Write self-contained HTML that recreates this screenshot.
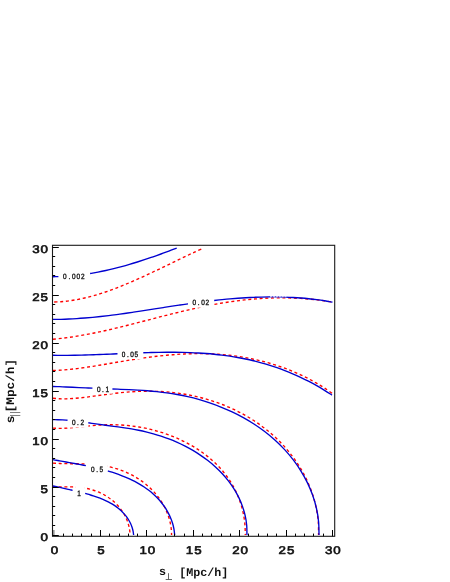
<!DOCTYPE html>
<html><head><meta charset="utf-8"><title>plot</title>
<style>html,body{margin:0;padding:0;background:#fff}body{width:450px;height:582px;overflow:hidden;font-family:"Liberation Sans",sans-serif}</style></head>
<body>
<svg width="450" height="582" viewBox="0 0 450 582" style="display:block;will-change:transform">
<rect x="0" y="0" width="450" height="582" fill="#fff"/>
<g fill="none" stroke="#ff0000" stroke-width="1.35" stroke-dasharray="3 2.7">
<path d="M53.00 302.07 C54.32 302.01 58.27 301.91 60.91 301.71 C63.55 301.52 66.18 301.24 68.82 300.89 C71.46 300.55 74.09 300.12 76.73 299.64 C79.37 299.15 82.01 298.60 84.64 297.98 C87.28 297.37 89.92 296.69 92.55 295.96 C95.19 295.23 97.83 294.44 100.46 293.61 C103.10 292.78 105.74 291.89 108.37 290.96 C111.01 290.03 113.65 289.06 116.28 288.05 C118.92 287.03 121.56 285.98 124.19 284.90 C126.83 283.82 129.47 282.70 132.11 281.56 C134.74 280.41 137.38 279.24 140.02 278.05 C142.65 276.86 145.29 275.64 147.93 274.41 C150.56 273.19 153.20 271.94 155.84 270.68 C158.47 269.43 161.11 268.16 163.75 266.89 C166.38 265.62 169.02 264.34 171.66 263.07 C174.29 261.79 176.93 260.52 179.57 259.25 C182.21 257.99 184.84 256.72 187.48 255.48 C190.12 254.23 192.75 252.99 195.39 251.77 C198.03 250.55 201.98 248.77 203.30 248.17" stroke-dashoffset="4.2"/>
<path d="M53.00 339.27 C54.33 339.13 58.32 338.75 60.99 338.44 C63.65 338.13 66.31 337.78 68.97 337.40 C71.63 337.03 74.30 336.62 76.96 336.18 C79.62 335.74 82.28 335.28 84.94 334.79 C87.60 334.30 90.27 333.78 92.93 333.25 C95.59 332.71 98.25 332.15 100.91 331.58 C103.58 331.00 106.24 330.41 108.90 329.80 C111.56 329.19 114.22 328.56 116.89 327.92 C119.55 327.28 122.21 326.62 124.87 325.96 C127.53 325.30 130.20 324.63 132.86 323.95 C135.52 323.28 138.18 322.59 140.84 321.90 C143.50 321.22 146.17 320.52 148.83 319.83 C151.49 319.14 154.15 318.45 156.81 317.76 C159.48 317.07 162.14 316.38 164.80 315.70 C167.46 315.02 170.12 314.35 172.79 313.68 C175.45 313.01 178.11 312.35 180.77 311.71 C183.43 311.06 186.10 310.43 188.76 309.81 C191.42 309.19 194.08 308.59 196.74 308.00 C199.40 307.42 202.07 306.85 204.73 306.30 C207.39 305.75 210.05 305.22 212.71 304.72 C215.38 304.22 218.04 303.74 220.70 303.29 C223.36 302.84 226.02 302.41 228.69 302.01 C231.35 301.61 234.01 301.24 236.67 300.89 C239.33 300.54 242.00 300.22 244.66 299.93 C247.32 299.64 249.98 299.38 252.64 299.15 C255.30 298.92 257.97 298.72 260.63 298.54 C263.29 298.37 265.95 298.23 268.61 298.12 C271.28 298.02 273.94 297.94 276.60 297.89 C279.26 297.85 281.92 297.84 284.59 297.86 C287.25 297.88 289.91 297.94 292.57 298.03 C295.23 298.12 297.90 298.25 300.56 298.41 C303.22 298.57 305.88 298.77 308.54 299.01 C311.20 299.24 313.87 299.51 316.53 299.83 C319.19 300.14 321.85 300.48 324.51 300.87 C327.18 301.26 331.17 301.94 332.50 302.16"/>
<path d="M53.00 370.47 C54.33 370.40 58.32 370.27 60.99 370.10 C63.65 369.93 66.31 369.71 68.97 369.46 C71.63 369.20 74.30 368.90 76.96 368.58 C79.62 368.26 82.28 367.89 84.94 367.51 C87.60 367.13 90.27 366.72 92.93 366.30 C95.59 365.88 98.25 365.44 100.91 364.99 C103.58 364.54 106.24 364.08 108.90 363.62 C111.56 363.16 114.22 362.69 116.89 362.23 C119.55 361.77 122.21 361.31 124.87 360.87 C127.53 360.43 130.20 359.99 132.86 359.58 C135.52 359.16 138.18 358.76 140.84 358.37 C143.50 357.99 146.17 357.62 148.83 357.27 C151.49 356.92 154.15 356.59 156.81 356.28 C159.48 355.97 162.14 355.68 164.80 355.42 C167.46 355.16 170.12 354.92 172.79 354.72 C175.45 354.51 178.11 354.32 180.77 354.17 C183.43 354.02 186.10 353.90 188.76 353.81 C191.42 353.72 194.08 353.66 196.74 353.64 C199.40 353.62 202.07 353.63 204.73 353.68 C207.39 353.74 210.05 353.82 212.71 353.95 C215.38 354.08 218.04 354.24 220.70 354.45 C223.36 354.66 226.02 354.91 228.69 355.20 C231.35 355.49 234.01 355.82 236.67 356.20 C239.33 356.58 242.00 357.00 244.66 357.46 C247.32 357.93 249.98 358.44 252.64 359.01 C255.30 359.57 257.97 360.17 260.63 360.83 C263.29 361.49 265.95 362.20 268.61 362.96 C271.28 363.72 273.94 364.52 276.60 365.39 C279.26 366.25 281.92 367.17 284.59 368.15 C287.25 369.13 289.91 370.16 292.57 371.27 C295.23 372.37 297.90 373.54 300.56 374.78 C303.22 376.03 305.88 377.34 308.54 378.73 C311.20 380.13 313.87 381.59 316.53 383.15 C319.19 384.70 321.85 386.33 324.51 388.06 C327.18 389.79 331.17 392.60 332.50 393.51"/>
<path d="M53.00 398.29 C54.08 398.36 57.34 398.66 59.52 398.75 C61.70 398.83 63.86 398.84 66.06 398.81 C68.26 398.77 70.46 398.66 72.70 398.51 C74.94 398.37 77.20 398.16 79.52 397.93 C81.83 397.69 84.17 397.41 86.57 397.11 C88.98 396.81 91.42 396.46 93.93 396.12 C96.44 395.78 99.00 395.41 101.62 395.05 C104.25 394.69 106.94 394.32 109.70 393.97 C112.46 393.62 115.28 393.27 118.18 392.96 C121.07 392.65 124.04 392.36 127.07 392.11 C130.10 391.87 133.21 391.65 136.38 391.50 C139.56 391.36 142.80 391.25 146.11 391.22 C149.42 391.19 152.79 391.22 156.23 391.34 C159.66 391.46 163.17 391.65 166.72 391.95 C170.27 392.25 173.88 392.62 177.53 393.12 C181.18 393.61 184.89 394.20 188.62 394.92 C192.36 395.63 196.14 396.46 199.94 397.41 C203.74 398.37 207.58 399.45 211.41 400.67 C215.25 401.89 219.11 403.24 222.94 404.75 C226.77 406.26 230.61 407.91 234.40 409.72 C238.19 411.53 241.98 413.49 245.68 415.61 C249.39 417.74 253.07 420.02 256.65 422.46 C260.23 424.91 263.75 427.51 267.16 430.27 C270.56 433.03 273.89 435.95 277.07 439.02 C280.26 442.09 283.34 445.32 286.26 448.69 C289.17 452.05 291.96 455.57 294.56 459.21 C297.16 462.85 299.61 466.64 301.84 470.53 C304.08 474.42 306.15 478.44 307.98 482.54 C309.81 486.64 311.45 490.86 312.83 495.13 C314.21 499.40 315.38 503.78 316.28 508.18 C317.18 512.57 317.84 517.05 318.22 521.52 C318.60 525.99 318.50 532.75 318.56 535.00"/>
<path d="M53.00 428.05 C53.85 428.09 56.41 428.27 58.12 428.31 C59.83 428.36 61.53 428.34 63.25 428.29 C64.98 428.25 66.71 428.15 68.47 428.03 C70.23 427.92 72.00 427.76 73.81 427.59 C75.62 427.42 77.46 427.23 79.33 427.03 C81.20 426.83 83.10 426.62 85.05 426.41 C86.99 426.21 88.97 426.00 90.99 425.81 C93.01 425.62 95.07 425.43 97.17 425.28 C99.26 425.13 101.40 425.00 103.58 424.91 C105.75 424.82 107.97 424.76 110.22 424.75 C112.47 424.74 114.76 424.76 117.09 424.84 C119.41 424.92 121.78 425.04 124.17 425.22 C126.57 425.40 129.00 425.63 131.47 425.92 C133.93 426.22 136.43 426.57 138.95 426.99 C141.48 427.41 144.04 427.89 146.61 428.45 C149.19 429.01 151.80 429.63 154.43 430.34 C157.05 431.05 159.71 431.83 162.37 432.69 C165.03 433.56 167.72 434.50 170.41 435.53 C173.10 436.57 175.81 437.68 178.51 438.89 C181.21 440.10 183.92 441.40 186.61 442.80 C189.29 444.21 191.98 445.71 194.62 447.32 C197.25 448.94 199.87 450.66 202.42 452.49 C204.97 454.32 207.48 456.27 209.91 458.32 C212.33 460.38 214.70 462.54 216.95 464.82 C219.21 467.09 221.39 469.48 223.44 471.97 C225.49 474.46 227.44 477.06 229.24 479.74 C231.04 482.42 232.72 485.21 234.23 488.07 C235.75 490.93 237.11 493.89 238.32 496.89 C239.53 499.90 240.59 502.98 241.48 506.10 C242.38 509.21 243.12 512.39 243.70 515.58 C244.28 518.77 244.70 522.01 244.97 525.25 C245.23 528.49 245.23 533.38 245.29 535.00"/>
<path d="M53.00 463.10 C53.57 463.14 55.30 463.26 56.45 463.33 C57.60 463.39 58.75 463.44 59.90 463.49 C61.05 463.53 62.21 463.57 63.37 463.60 C64.53 463.62 65.70 463.64 66.88 463.66 C68.07 463.68 69.26 463.69 70.46 463.70 C71.67 463.71 72.89 463.71 74.12 463.72 C75.36 463.73 76.61 463.74 77.88 463.76 C79.16 463.78 80.45 463.79 81.76 463.83 C83.07 463.86 84.41 463.89 85.76 463.95 C87.12 464.00 88.50 464.06 89.90 464.15 C91.30 464.23 92.72 464.33 94.17 464.46 C95.61 464.60 97.08 464.74 98.57 464.93 C100.05 465.12 101.56 465.33 103.08 465.58 C104.61 465.83 106.15 466.11 107.71 466.44 C109.26 466.77 110.83 467.13 112.42 467.55 C114.00 467.96 115.59 468.42 117.19 468.92 C118.79 469.43 120.40 469.99 122.00 470.60 C123.61 471.21 125.22 471.87 126.83 472.59 C128.43 473.31 130.04 474.08 131.63 474.91 C133.22 475.75 134.80 476.63 136.37 477.58 C137.93 478.53 139.49 479.54 141.02 480.61 C142.54 481.68 144.05 482.81 145.52 484.00 C146.99 485.20 148.43 486.45 149.83 487.76 C151.23 489.08 152.59 490.45 153.90 491.88 C155.21 493.32 156.47 494.81 157.67 496.36 C158.87 497.90 160.02 499.51 161.10 501.16 C162.17 502.81 163.19 504.52 164.12 506.27 C165.05 508.02 165.92 509.82 166.70 511.66 C167.47 513.49 168.17 515.37 168.77 517.27 C169.38 519.17 169.89 521.12 170.31 523.07 C170.72 525.03 171.04 527.01 171.26 529.00 C171.47 530.99 171.53 534.00 171.59 535.00"/>
<path d="M53.00 486.63 C53.39 486.65 54.56 486.73 55.34 486.77 C56.12 486.81 56.90 486.84 57.68 486.86 C58.46 486.88 59.24 486.89 60.03 486.90 C60.82 486.91 61.61 486.91 62.41 486.91 C63.22 486.91 64.02 486.90 64.84 486.90 C65.66 486.89 66.49 486.89 67.33 486.89 C68.17 486.89 69.02 486.89 69.88 486.90 C70.74 486.91 71.61 486.93 72.50 486.95 C73.38 486.98 74.28 487.01 75.19 487.06 C76.10 487.11 77.03 487.17 77.96 487.24 C78.90 487.32 79.85 487.41 80.81 487.52 C81.76 487.64 82.74 487.77 83.72 487.92 C84.70 488.08 85.69 488.25 86.69 488.45 C87.68 488.65 88.69 488.88 89.70 489.14 C90.72 489.39 91.74 489.67 92.76 489.99 C93.78 490.30 94.81 490.64 95.84 491.02 C96.87 491.39 97.90 491.80 98.93 492.24 C99.95 492.69 100.98 493.16 102.00 493.68 C103.02 494.19 104.04 494.74 105.04 495.32 C106.05 495.91 107.05 496.53 108.03 497.19 C109.01 497.85 109.98 498.54 110.94 499.28 C111.89 500.01 112.83 500.78 113.74 501.59 C114.66 502.40 115.55 503.24 116.42 504.13 C117.29 505.01 118.13 505.93 118.94 506.88 C119.75 507.83 120.53 508.82 121.27 509.85 C122.01 510.87 122.72 511.92 123.38 513.01 C124.05 514.09 124.68 515.21 125.26 516.36 C125.83 517.50 126.37 518.67 126.86 519.86 C127.34 521.06 127.78 522.28 128.16 523.51 C128.55 524.75 128.88 526.00 129.15 527.27 C129.42 528.54 129.64 529.82 129.80 531.11 C129.95 532.40 130.03 534.35 130.08 535.00"/>
</g>
<rect x="58.4" y="268.6" width="31.7" height="13.1" fill="#fff"/>
<rect x="188.0" y="295.0" width="26.0" height="12.7" fill="#fff"/>
<rect x="117.5" y="346.4" width="25.8" height="12.6" fill="#fff"/>
<rect x="92.5" y="380.7" width="20.0" height="13.0" fill="#fff"/>
<rect x="67.5" y="414.4" width="20.8" height="13.2" fill="#fff"/>
<rect x="86.2" y="461.4" width="21.0" height="12.6" fill="#fff"/>
<rect x="75.5" y="485.5" width="9.3" height="12.7" fill="#fff"/>
<g fill="none" stroke="#0000d0" stroke-width="1.35">
<path d="M53.00 276.71 C53.45 276.71 54.80 276.70 55.70 276.68 C56.60 276.67 57.95 276.63 58.40 276.62"/>
<path d="M90.10 273.50 C91.41 273.27 95.35 272.60 97.97 272.10 C100.60 271.59 103.22 271.05 105.85 270.47 C108.47 269.90 111.09 269.28 113.72 268.64 C116.34 267.99 118.97 267.31 121.59 266.61 C124.22 265.90 126.84 265.16 129.46 264.39 C132.09 263.63 134.71 262.83 137.34 262.01 C139.96 261.19 142.58 260.34 145.21 259.48 C147.83 258.61 150.46 257.71 153.08 256.80 C155.71 255.88 158.33 254.94 160.95 253.99 C163.58 253.03 166.20 252.06 168.83 251.07 C171.45 250.07 175.39 248.55 176.70 248.04"/>
<path d="M53.00 319.39 C54.32 319.38 58.29 319.36 60.94 319.30 C63.59 319.24 66.24 319.15 68.88 319.03 C71.53 318.92 74.18 318.77 76.82 318.60 C79.47 318.44 82.12 318.24 84.76 318.03 C87.41 317.81 90.06 317.58 92.71 317.32 C95.35 317.06 98.00 316.79 100.65 316.49 C103.29 316.20 105.94 315.89 108.59 315.57 C111.24 315.24 113.88 314.90 116.53 314.55 C119.18 314.20 121.82 313.83 124.47 313.46 C127.12 313.09 129.76 312.70 132.41 312.31 C135.06 311.92 137.71 311.52 140.35 311.12 C143.00 310.71 145.65 310.30 148.29 309.89 C150.94 309.48 153.59 309.07 156.24 308.65 C158.88 308.24 161.53 307.82 164.18 307.41 C166.82 307.00 169.47 306.59 172.12 306.18 C174.76 305.78 177.41 305.38 180.06 304.99 C182.71 304.59 186.68 304.02 188.00 303.83"/>
<path d="M214.20 300.47 C215.51 300.33 219.46 299.89 222.09 299.62 C224.72 299.36 227.34 299.11 229.97 298.88 C232.60 298.65 235.23 298.44 237.86 298.24 C240.49 298.05 243.12 297.87 245.75 297.72 C248.38 297.56 251.00 297.43 253.63 297.31 C256.26 297.20 258.89 297.11 261.52 297.05 C264.15 296.98 266.78 296.94 269.41 296.92 C272.04 296.90 274.66 296.91 277.29 296.94 C279.92 296.98 282.55 297.04 285.18 297.13 C287.81 297.21 290.44 297.33 293.07 297.48 C295.70 297.63 298.32 297.80 300.95 298.01 C303.58 298.22 306.21 298.46 308.84 298.73 C311.47 299.00 314.10 299.30 316.73 299.64 C319.36 299.98 321.98 300.35 324.61 300.76 C327.24 301.17 331.19 301.88 332.50 302.10"/>
<path d="M53.00 355.25 C54.19 355.27 57.78 355.33 60.17 355.34 C62.56 355.35 64.94 355.35 67.33 355.34 C69.72 355.32 72.11 355.29 74.50 355.25 C76.89 355.22 79.28 355.17 81.67 355.11 C84.06 355.05 86.44 354.98 88.83 354.90 C91.22 354.83 93.61 354.74 96.00 354.66 C98.39 354.57 100.78 354.47 103.17 354.38 C105.56 354.28 107.94 354.18 110.33 354.08 C112.72 353.97 116.31 353.82 117.50 353.77"/>
<path d="M143.30 352.73 C144.61 352.70 148.54 352.57 151.16 352.50 C153.78 352.44 156.40 352.38 159.03 352.34 C161.65 352.29 164.27 352.26 166.89 352.25 C169.51 352.23 172.13 352.23 174.75 352.25 C177.37 352.28 179.99 352.31 182.61 352.37 C185.23 352.43 187.85 352.51 190.48 352.61 C193.10 352.71 195.72 352.84 198.34 352.99 C200.96 353.14 203.58 353.32 206.20 353.52 C208.82 353.73 211.44 353.96 214.06 354.22 C216.68 354.49 219.30 354.78 221.93 355.11 C224.55 355.44 227.17 355.80 229.79 356.19 C232.41 356.59 235.03 357.02 237.65 357.49 C240.27 357.96 242.89 358.46 245.51 359.01 C248.13 359.56 250.75 360.15 253.38 360.78 C256.00 361.41 258.62 362.08 261.24 362.80 C263.86 363.52 266.48 364.29 269.10 365.10 C271.72 365.91 274.34 366.77 276.96 367.68 C279.58 368.60 282.20 369.55 284.83 370.57 C287.45 371.58 290.07 372.65 292.69 373.77 C295.31 374.90 297.93 376.07 300.55 377.31 C303.17 378.54 305.79 379.83 308.41 381.19 C311.03 382.54 313.65 383.95 316.27 385.43 C318.90 386.91 321.52 388.44 324.14 390.05 C326.76 391.65 330.69 394.22 332.00 395.06"/>
<path d="M53.00 386.47 C54.08 386.51 57.33 386.62 59.49 386.70 C61.66 386.78 63.82 386.87 65.99 386.96 C68.15 387.06 70.32 387.16 72.50 387.26 C74.68 387.36 76.86 387.46 79.07 387.56 C81.27 387.66 83.48 387.76 85.71 387.87 C87.94 387.97 91.33 388.12 92.46 388.17"/>
<path d="M112.43 388.98 C113.79 389.04 117.81 389.19 120.59 389.30 C123.37 389.42 126.19 389.53 129.09 389.66 C131.98 389.79 134.94 389.93 137.96 390.10 C140.98 390.28 144.06 390.47 147.21 390.72 C150.35 390.97 153.56 391.25 156.83 391.60 C160.10 391.96 163.43 392.35 166.82 392.84 C170.20 393.32 173.65 393.87 177.14 394.51 C180.63 395.15 184.18 395.86 187.76 396.69 C191.34 397.51 194.97 398.42 198.63 399.46 C202.28 400.49 205.98 401.62 209.69 402.88 C213.40 404.14 217.15 405.51 220.89 407.02 C224.63 408.52 228.40 410.15 232.14 411.92 C235.88 413.69 239.64 415.59 243.34 417.65 C247.03 419.71 250.73 421.91 254.34 424.27 C257.94 426.63 261.52 429.14 264.99 431.81 C268.46 434.48 271.87 437.30 275.14 440.28 C278.42 443.25 281.61 446.39 284.63 449.66 C287.65 452.94 290.57 456.37 293.29 459.93 C296.01 463.49 298.59 467.21 300.96 471.03 C303.32 474.85 305.52 478.81 307.47 482.86 C309.42 486.91 311.18 491.08 312.67 495.32 C314.17 499.55 315.44 503.89 316.42 508.27 C317.41 512.64 318.14 517.10 318.58 521.56 C319.01 526.01 318.95 532.76 319.02 535.00"/>
<path d="M53.00 419.69 C53.81 419.69 56.22 419.67 57.84 419.71 C59.45 419.74 61.06 419.81 62.67 419.90 C64.28 419.99 66.70 420.19 67.51 420.24"/>
<path d="M88.31 422.78 C89.25 422.91 92.04 423.32 93.93 423.59 C95.83 423.86 97.74 424.14 99.68 424.42 C101.62 424.69 103.58 424.97 105.59 425.24 C107.59 425.52 109.63 425.79 111.71 426.07 C113.79 426.34 115.90 426.62 118.06 426.91 C120.22 427.21 122.42 427.51 124.67 427.85 C126.91 428.19 129.19 428.55 131.51 428.95 C133.84 429.35 136.20 429.78 138.60 430.26 C141.00 430.75 143.44 431.27 145.91 431.86 C148.37 432.44 150.88 433.08 153.41 433.79 C155.94 434.50 158.50 435.26 161.07 436.11 C163.65 436.96 166.25 437.87 168.86 438.87 C171.47 439.87 174.11 440.95 176.73 442.11 C179.36 443.28 182.00 444.53 184.63 445.88 C187.26 447.23 189.89 448.67 192.50 450.20 C195.10 451.74 197.71 453.37 200.27 455.10 C202.84 456.83 205.39 458.65 207.88 460.59 C210.37 462.53 212.83 464.57 215.20 466.71 C217.56 468.86 219.88 471.12 222.08 473.47 C224.28 475.83 226.40 478.30 228.39 480.87 C230.37 483.43 232.26 486.10 233.98 488.86 C235.70 491.61 237.29 494.47 238.71 497.39 C240.13 500.31 241.40 503.32 242.48 506.37 C243.55 509.43 244.47 512.56 245.17 515.72 C245.87 518.87 246.40 522.09 246.70 525.31 C247.00 528.52 246.92 533.38 246.97 535.00"/>
<path d="M53.00 459.70 C53.55 459.79 55.21 460.08 56.31 460.28 C57.41 460.47 58.50 460.66 59.59 460.86 C60.67 461.05 61.75 461.24 62.83 461.44 C63.91 461.63 64.99 461.82 66.06 462.01 C67.14 462.21 68.22 462.40 69.29 462.59 C70.37 462.79 71.45 462.98 72.54 463.18 C73.62 463.37 74.71 463.57 75.80 463.77 C76.89 463.97 77.99 464.17 79.10 464.38 C80.21 464.59 81.32 464.79 82.45 465.01 C83.58 465.23 85.29 465.56 85.86 465.67"/>
<path d="M107.82 470.91 C108.52 471.13 110.61 471.75 112.03 472.20 C113.46 472.66 114.90 473.14 116.36 473.65 C117.83 474.16 119.31 474.70 120.81 475.27 C122.31 475.85 123.83 476.45 125.36 477.10 C126.90 477.74 128.46 478.42 130.02 479.14 C131.59 479.87 133.17 480.63 134.74 481.45 C136.32 482.28 137.91 483.14 139.48 484.07 C141.05 485.00 142.63 485.98 144.18 487.02 C145.73 488.07 147.27 489.17 148.77 490.33 C150.28 491.49 151.77 492.72 153.20 494.01 C154.64 495.30 156.05 496.65 157.40 498.06 C158.75 499.47 160.07 500.94 161.31 502.47 C162.55 504.00 163.73 505.60 164.84 507.24 C165.95 508.88 166.99 510.58 167.94 512.33 C168.89 514.07 169.76 515.87 170.53 517.70 C171.30 519.53 171.99 521.41 172.56 523.31 C173.13 525.21 173.61 527.15 173.96 529.10 C174.32 531.05 174.56 534.02 174.68 535.00"/>
<path d="M52.99 485.99 C53.37 486.07 54.49 486.29 55.23 486.44 C55.97 486.59 56.71 486.75 57.44 486.90 C58.17 487.06 58.89 487.22 59.61 487.38 C60.34 487.54 61.05 487.70 61.77 487.86 C62.49 488.02 63.20 488.18 63.91 488.34 C64.63 488.51 65.34 488.67 66.06 488.83 C66.77 489.00 67.49 489.16 68.21 489.33 C68.92 489.50 69.65 489.66 70.37 489.83 C71.10 490.00 72.20 490.25 72.57 490.34"/>
<path d="M85.18 493.45 C85.62 493.58 86.91 493.93 87.80 494.18 C88.69 494.43 89.59 494.70 90.51 494.98 C91.43 495.26 92.36 495.55 93.31 495.86 C94.26 496.17 95.22 496.49 96.21 496.83 C97.19 497.18 98.19 497.54 99.21 497.92 C100.22 498.31 101.26 498.71 102.31 499.14 C103.35 499.57 104.42 500.03 105.49 500.52 C106.55 501.01 107.63 501.53 108.71 502.10 C109.78 502.66 110.87 503.25 111.94 503.89 C113.00 504.53 114.07 505.21 115.12 505.93 C116.17 506.66 117.21 507.42 118.22 508.23 C119.23 509.04 120.22 509.90 121.18 510.79 C122.13 511.69 123.06 512.64 123.94 513.62 C124.83 514.60 125.68 515.63 126.47 516.70 C127.26 517.76 128.01 518.87 128.69 520.01 C129.38 521.15 130.01 522.33 130.57 523.54 C131.13 524.74 131.63 525.98 132.05 527.24 C132.46 528.50 132.82 529.78 133.08 531.08 C133.34 532.37 133.53 534.34 133.62 535.00"/>
</g>
<path d="M270 296.75H286.5" stroke="#fff" stroke-width="0.9" stroke-dasharray="2.2 0.7" fill="none"/>
<g fill="none" stroke="#1a1a1a" stroke-width="1.1">
<rect x="52.5" y="245.3" width="282.2" height="291.0"/>
</g>
<path d="M53.9 536.3V530.0" stroke="#555" stroke-width="1" fill="none"/>
<path d="M52.5 535.5H58.8M63.5 536.3V533.6M52.5 525.5H55.2M72.5 536.3V533.6M52.5 515.5H55.2M81.5 536.3V533.6M52.5 506.5H55.2M91.5 536.3V533.6M52.5 496.5H55.2M100.5 536.3V530.0M52.5 487.5H58.8M109.5 536.3V533.6M52.5 477.5H55.2M119.5 536.3V533.6M52.5 467.5H55.2M128.5 536.3V533.6M52.5 458.5H55.2M137.5 536.3V533.6M52.5 448.5H55.2M146.5 536.3V530.0M52.5 439.5H58.8M156.5 536.3V533.6M52.5 429.5H55.2M165.5 536.3V533.6M52.5 419.5H55.2M174.5 536.3V533.6M52.5 410.5H55.2M184.5 536.3V533.6M52.5 400.5H55.2M193.5 536.3V530.0M52.5 391.5H58.8M202.5 536.3V533.6M52.5 381.5H55.2M211.5 536.3V533.6M52.5 371.5H55.2M221.5 536.3V533.6M52.5 362.5H55.2M230.5 536.3V533.6M52.5 352.5H55.2M239.5 536.3V530.0M52.5 343.5H58.8M248.5 536.3V533.6M52.5 333.5H55.2M258.5 536.3V533.6M52.5 323.5H55.2M267.5 536.3V533.6M52.5 314.5H55.2M276.5 536.3V533.6M52.5 304.5H55.2M286.5 536.3V530.0M52.5 295.5H58.8M295.5 536.3V533.6M52.5 285.5H55.2M304.5 536.3V533.6M52.5 275.5H55.2M313.5 536.3V533.6M52.5 266.5H55.2M323.5 536.3V533.6M52.5 256.5H55.2M332.5 536.3V530.0M52.5 247.5H58.8" stroke="#000" stroke-width="1" fill="none"/>
<g font-family="Liberation Sans, sans-serif" font-size="11.2" fill="#111" stroke="#111" stroke-width="0.62" stroke-linejoin="round" text-rendering="geometricPrecision">
<text transform="translate(48.00 540.50) scale(1.19 1)" text-anchor="end" dx="0 0.8">0</text>
<text transform="translate(54.50 554.30) scale(1.19 1)" text-anchor="middle" dx="0 0.8">0</text>
<text transform="translate(48.00 492.50) scale(1.19 1)" text-anchor="end" dx="0 0.8">5</text>
<text transform="translate(100.90 554.30) scale(1.19 1)" text-anchor="middle" dx="0 0.8">5</text>
<text transform="translate(48.00 444.50) scale(1.19 1)" text-anchor="end" dx="0 0.8">10</text>
<text transform="translate(147.30 554.30) scale(1.19 1)" text-anchor="middle" dx="0 0.8">10</text>
<text transform="translate(48.00 396.50) scale(1.19 1)" text-anchor="end" dx="0 0.8">15</text>
<text transform="translate(193.70 554.30) scale(1.19 1)" text-anchor="middle" dx="0 0.8">15</text>
<text transform="translate(48.00 348.50) scale(1.19 1)" text-anchor="end" dx="0 0.8">20</text>
<text transform="translate(240.10 554.30) scale(1.19 1)" text-anchor="middle" dx="0 0.8">20</text>
<text transform="translate(48.00 300.50) scale(1.19 1)" text-anchor="end" dx="0 0.8">25</text>
<text transform="translate(286.50 554.30) scale(1.19 1)" text-anchor="middle" dx="0 0.8">25</text>
<text transform="translate(48.00 252.50) scale(1.19 1)" text-anchor="end" dx="0 0.8">30</text>
<text transform="translate(332.90 554.30) scale(1.19 1)" text-anchor="middle" dx="0 0.8">30</text>
</g>
<g font-family="Liberation Sans, sans-serif" font-size="7.7" fill="#111" stroke="#111" stroke-width="0.35" text-rendering="geometricPrecision">
<text transform="scale(0.84 1)" x="75.00 81.43 85.71 91.07 96.43" y="279.3">0.002</text>
<text transform="scale(0.84 1)" x="229.29 235.48 239.52 244.64" y="305.3">0.02</text>
<text transform="scale(0.84 1)" x="144.88 151.07 155.12 160.24" y="357.0">0.05</text>
<text transform="scale(0.84 1)" x="115.36 121.55 125.60" y="391.7">0.1</text>
<text transform="scale(0.84 1)" x="85.60 91.78 95.83" y="425.0">0.2</text>
<text transform="scale(0.84 1)" x="108.33 114.52 118.57" y="472.0">0.5</text>
<text transform="scale(0.84 1)" x="91.90" y="496.2">1</text>
</g>
<g font-family="Liberation Mono, monospace" font-weight="bold" font-size="11.7" fill="#111" text-rendering="geometricPrecision">
<text x="158.9" y="575.4">s</text>
<text x="179.2" y="575.6">[Mpc/h]</text>
<g transform="translate(13.8 423.3) rotate(-90) scale(1.09 1)"><text x="0" y="0">s</text><text x="10" y="0">[Mpc/h]</text></g>
</g>
<path d="M165.7 579.5H172 M168.5 573.2V579.5" stroke="#4a4a4a" stroke-width="0.85" fill="none"/>
<path d="M10 412.5H20.3 M10 415.5H20.3" stroke="#6a6a6a" stroke-width="0.85" fill="none"/>
</svg>
</body></html>
